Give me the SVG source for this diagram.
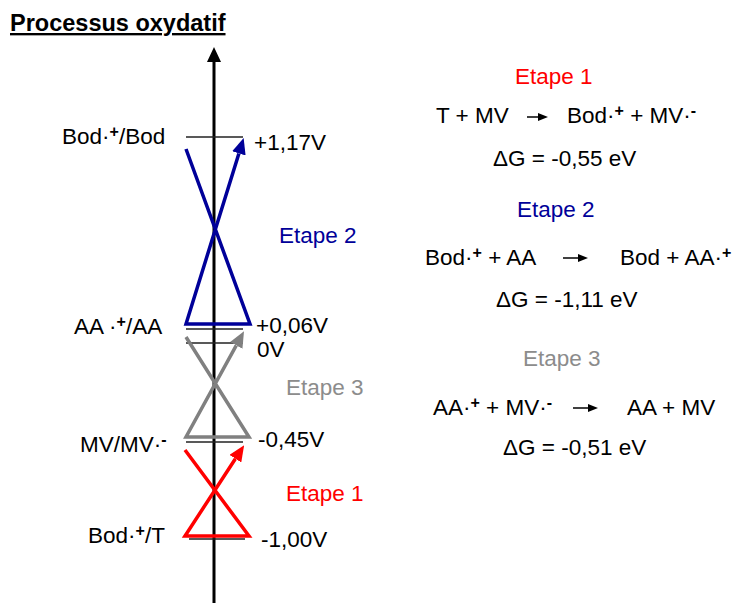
<svg xmlns="http://www.w3.org/2000/svg" width="738" height="603" viewBox="0 0 738 603">
<style>
text{font-family:"Liberation Sans",Arial,sans-serif;font-size:22.5px;fill:#000}
.t{font-weight:bold;font-size:23.5px;text-decoration:underline}
.sup{font-size:16px;font-weight:bold}
.lvl{stroke:#222;stroke-width:1.5;fill:none}
.blue{stroke:#000099;stroke-width:3.5;fill:none;stroke-linejoin:miter}
.gray{stroke:#808080;stroke-width:3.5;fill:none}
.red{stroke:#ff0000;stroke-width:3.5;fill:none}
.cb{fill:#000099}.cg{fill:#8c8c8c}.cr{fill:#ff0000}
</style>
<defs>
<marker id="mb" markerUnits="userSpaceOnUse" markerWidth="16" markerHeight="14" refX="0" refY="7" orient="auto" viewBox="0 0 16 14"><path d="M0,0 L16,7 L0,14 z" fill="#000099"/></marker>
<marker id="mg" markerUnits="userSpaceOnUse" markerWidth="16" markerHeight="14" refX="0" refY="7" orient="auto" viewBox="0 0 16 14"><path d="M0,0 L16,7 L0,14 z" fill="#808080"/></marker>
<marker id="mr" markerUnits="userSpaceOnUse" markerWidth="16" markerHeight="14" refX="0" refY="7" orient="auto" viewBox="0 0 16 14"><path d="M0,0 L16,7 L0,14 z" fill="#ff0000"/></marker>
<marker id="mk" markerUnits="userSpaceOnUse" markerWidth="10" markerHeight="8" refX="0" refY="4" orient="auto" viewBox="0 0 10 8"><path d="M0,0 L10,4 L0,8 z" fill="#000"/></marker>
</defs>
<rect width="738" height="603" fill="#fff"/>
<text class="t" x="10" y="31">Processus oxydatif</text>

<g id="axis">
<line x1="214" y1="603" x2="214" y2="60" stroke="#000" stroke-width="3"/>
<polygon points="207,62 221,62 214,47" fill="#000"/>
</g>

<g id="levels">
<line class="lvl" x1="186" y1="137" x2="243" y2="137"/>
<line class="lvl" x1="186" y1="329" x2="243" y2="329"/>
<line class="lvl" x1="186" y1="343" x2="243" y2="343"/>
<line class="lvl" x1="186" y1="442" x2="243" y2="442"/>
<line class="lvl" x1="189" y1="539" x2="245" y2="539"/>
</g>

<g id="connectors">
<polyline class="blue" points="186,149 250,324 186,324 238.9,153.4" marker-end="url(#mb)"/>
<polyline class="gray" points="186,337 249,437 186,437 236.3,345.3" marker-end="url(#mg)"/>
<polyline class="red" points="185,450 249,536 185,536 235.4,458.7" marker-end="url(#mr)"/>
</g>

<g id="left-labels">
<text x="62" y="144">Bod·<tspan class="sup" dy="-7">+</tspan><tspan dy="7">/Bod</tspan></text>
<text x="74" y="334">AA ·<tspan class="sup" dy="-7">+</tspan><tspan dy="7">/AA</tspan></text>
<text x="80" y="452">MV/MV·<tspan class="sup" dy="-7">-</tspan></text>
<text x="88" y="543">Bod·<tspan class="sup" dy="-7">+</tspan><tspan dy="7">/T</tspan></text>
<text x="254" y="150">+1,17V</text>
<text x="256" y="333">+0,06V</text>
<text x="257" y="357">0V</text>
<text x="258" y="447">-0,45V</text>
<text x="261" y="547">-1,00V</text>
<text x="279" y="243" class="cb">Etape 2</text>
<text x="286" y="395" class="cg">Etape 3</text>
<text x="286" y="501" class="cr">Etape 1</text>
</g>

<g id="step1">
<text x="515" y="84" class="cr">Etape 1</text>
<text x="436" y="123">T + MV</text>
<line x1="527" y1="117" x2="538" y2="117" stroke="#000" stroke-width="1.5" marker-end="url(#mk)"/>
<text x="567" y="123">Bod·<tspan class="sup" dy="-7">+</tspan><tspan dy="7"> + MV·</tspan><tspan class="sup" dy="-7">-</tspan></text>
<text x="493" y="166">ΔG = -0,55 eV</text>
</g>

<g id="step2">
<text x="517" y="217" class="cb">Etape 2</text>
<text x="425" y="265">Bod·<tspan class="sup" dy="-7">+</tspan><tspan dy="7"> + AA</tspan></text>
<line x1="563" y1="258" x2="578" y2="258" stroke="#000" stroke-width="1.5" marker-end="url(#mk)"/>
<text x="620" y="265">Bod + AA·<tspan class="sup" dy="-7">+</tspan></text>
<text x="496" y="307">ΔG = -1,11 eV</text>
</g>

<g id="step3">
<text x="523" y="366" class="cg">Etape 3</text>
<text x="433" y="415">AA·<tspan class="sup" dy="-7">+</tspan><tspan dy="7"> + MV·</tspan><tspan class="sup" dy="-7">-</tspan></text>
<line x1="573" y1="408" x2="588" y2="408" stroke="#000" stroke-width="1.5" marker-end="url(#mk)"/>
<text x="627" y="415">AA + MV</text>
<text x="503" y="455">ΔG = -0,51 eV</text>
</g>
</svg>
